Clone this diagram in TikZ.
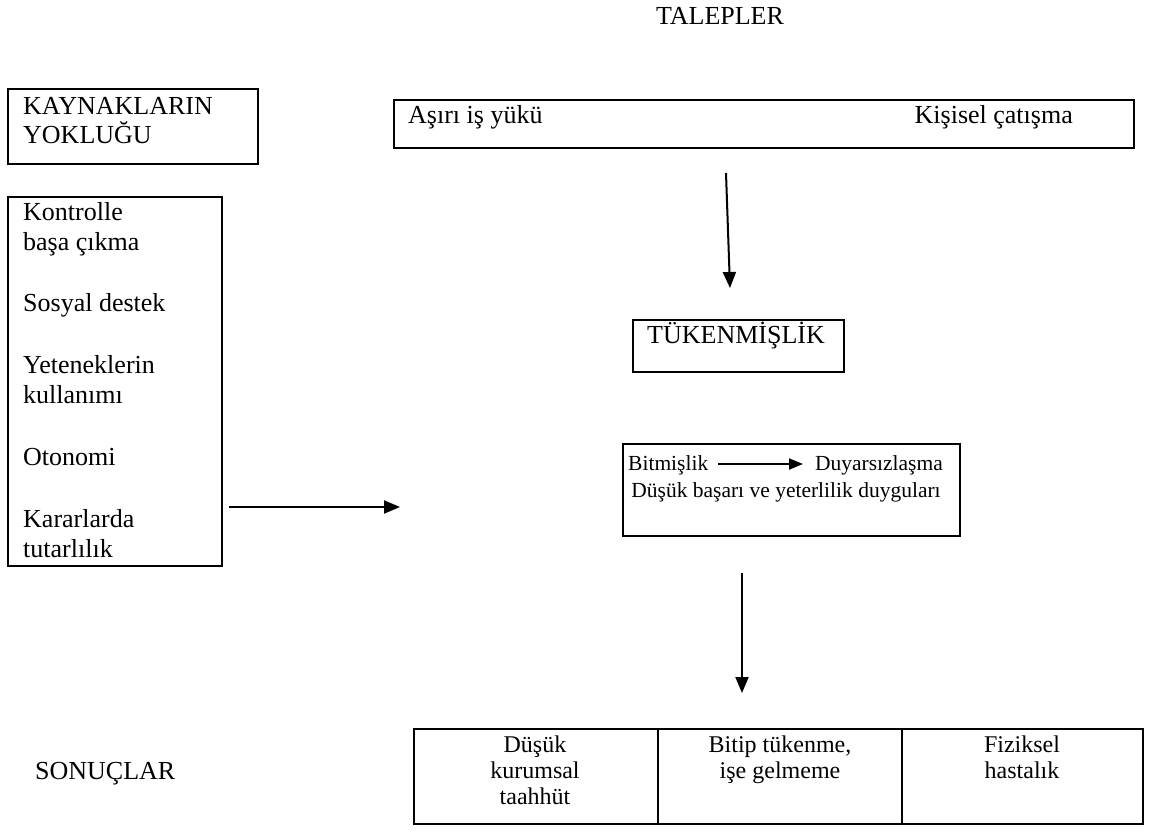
\documentclass[tikz,border=0pt]{standalone}
\usepackage{fontspec}
\setmainfont{Liberation Serif}
\usetikzlibrary{arrows.meta}
\begin{document}
\begin{tikzpicture}[x=1pt,y=-1pt,
  box/.style={draw,line width=2.4pt,inner sep=0pt,anchor=north west},
  txt/.style={inner sep=0pt,anchor=base west,font=\fontsize{26}{30}\selectfont},
  ctr/.style={txt,anchor=base},
  rgt/.style={txt,anchor=base east},
  midfont/.style={font=\fontsize{21.5}{25}\selectfont},
  tabfont/.style={font=\fontsize{24}{27}\selectfont},
  arr/.style={line width=2pt,-{Triangle[length=16pt,width=13pt]}},
  sarr/.style={line width=2pt,-{Triangle[length=14pt,width=11pt]}}]
\useasboundingbox (0,0) rectangle (1152,836);

% title
\node[ctr] (talep) at (720,24) {TALEPLER};

% left boxes
\node[box,minimum width=250pt,minimum height=75pt] (kay) at (7,88) {};
\node[txt] (kay1) at (23,114) {KAYNAKLARIN};
\node[txt] (kay2) at (23,143) {YOKLUĞU};

\node[box,minimum width=214pt,minimum height=369pt] (res) at (7,196) {};
\node[txt] (r1) at (23,220) {Kontrolle};
\node[txt] (r2) at (23,250) {başa çıkma};
\node[txt] (r3) at (23,311) {Sosyal destek};
\node[txt] (r4) at (23,373) {Yeteneklerin};
\node[txt] (r5) at (23,403) {kullanımı};
\node[txt] (r6) at (23,465) {Otonomi};
\node[txt] (r7) at (23,527) {Kararlarda};
\node[txt] (r8) at (23,557) {tutarlılık};

\coordinate (la1) at (229,507);
\coordinate (la2) at (400,507);
\draw[arr] (la1) -- (la2);

% demands box
\node[box,minimum width=740pt,minimum height=48pt] (dem) at (393,99) {};
\node[txt] (d1) at (408,123) {Aşırı iş yükü};
\node[rgt] (d2) at (1073,123) {Kişisel çatışma};

\coordinate (a1s) at (726,173);
\coordinate (a1e) at (730,288);
\draw[arr] (a1s) -- (a1e);

% burnout box
\node[box,minimum width=211pt,minimum height=52pt] (tuk) at (632,319) {};
\node[txt] (tukt) at (647,343) {TÜKENMİŞLİK};

% middle box
\node[box,minimum width=337pt,minimum height=92pt] (mid) at (622,443) {};
\node[txt,midfont] (m1) at (628,470) {Bitmişlik};
\node[rgt,midfont] (m2) at (943,470) {Duyarsızlaşma};
\node[ctr,midfont] (m3) at (786,497) {Düşük başarı ve yeterlilik duyguları};
\coordinate (ma1) at (718,464);
\coordinate (ma2) at (803,464);
\draw[sarr] (ma1) -- (ma2);

\coordinate (a3s) at (742,573);
\coordinate (a3e) at (742,693);
\draw[arr] (a3s) -- (a3e);

% outcomes
\node[txt] (son) at (35,779) {SONUÇLAR};
\node[box,minimum width=729pt,minimum height=95pt] (tab) at (413,728) {};
\coordinate (dv1t) at (658,728);
\coordinate (dv1b) at (658,823);
\coordinate (dv2t) at (902,728);
\coordinate (dv2b) at (902,823);
\draw[line width=2.4pt] (dv1t) -- (dv1b);
\draw[line width=2.4pt] (dv2t) -- (dv2b);

\node[ctr,tabfont] (c11) at (535,752) {Düşük};
\node[ctr,tabfont] (c12) at (535,778) {kurumsal};
\node[ctr,tabfont] (c13) at (535,804) {taahhüt};
\node[ctr,tabfont] (c21) at (780,752) {Bitip tükenme,};
\node[ctr,tabfont] (c22) at (780,778) {işe gelmeme};
\node[ctr,tabfont] (c31) at (1022,752) {Fiziksel};
\node[ctr,tabfont] (c32) at (1022,778) {hastalık};
\end{tikzpicture}
\end{document}
